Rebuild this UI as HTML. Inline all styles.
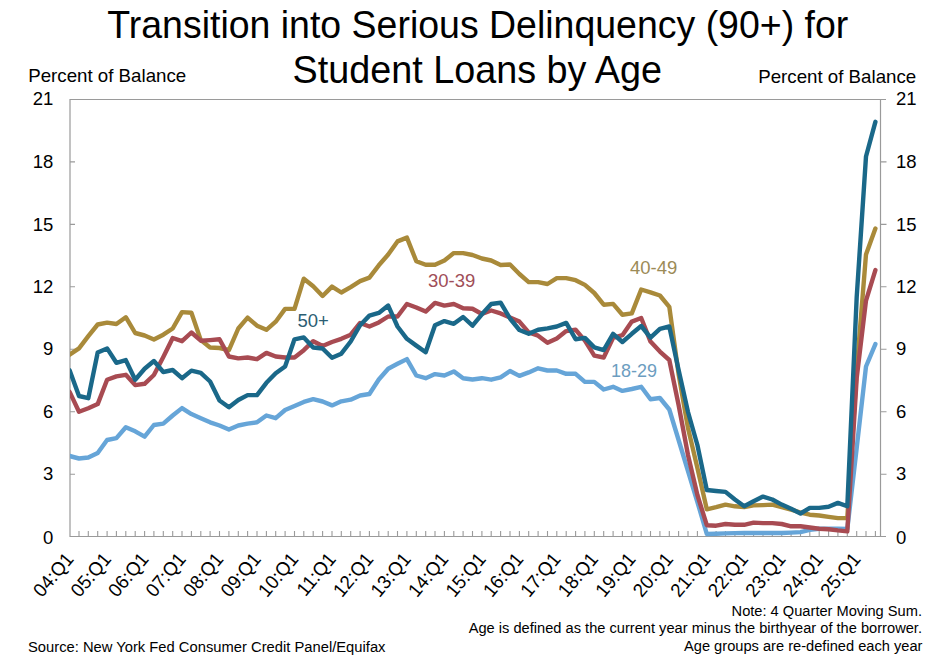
<!DOCTYPE html>
<html><head><meta charset="utf-8"><style>
html,body{margin:0;padding:0;background:#fff;width:947px;height:662px;overflow:hidden}
svg{display:block}
text{font-family:"Liberation Sans",sans-serif;fill:#000}
</style></head><body>
<svg width="947" height="662" viewBox="0 0 947 662">
<path d="M69.5,99.5H886 M70,99V537 M69.5,536.5H886 M880.5,99V537" stroke="#9A9A9A" stroke-width="1.2" fill="none"/>
<path d="M70.0,474.2h5 M70.0,411.7h5 M70.0,349.3h5 M70.0,286.8h5 M70.0,224.4h5 M70.0,161.9h5 M880.5,474.2h6 M880.5,411.7h6 M880.5,349.3h6 M880.5,286.8h6 M880.5,224.4h6 M880.5,161.9h6 M79.0,536.6v-5.5 M88.3,536.6v-5.5 M97.7,536.6v-5.5 M107.1,536.6v-5.5 M116.4,536.6v-5.5 M125.8,536.6v-5.5 M135.2,536.6v-5.5 M144.6,536.6v-5.5 M153.9,536.6v-5.5 M163.3,536.6v-5.5 M172.7,536.6v-5.5 M182.0,536.6v-5.5 M191.4,536.6v-5.5 M200.8,536.6v-5.5 M210.1,536.6v-5.5 M219.5,536.6v-5.5 M228.9,536.6v-5.5 M238.3,536.6v-5.5 M247.6,536.6v-5.5 M257.0,536.6v-5.5 M266.4,536.6v-5.5 M275.7,536.6v-5.5 M285.1,536.6v-5.5 M294.5,536.6v-5.5 M303.8,536.6v-5.5 M313.2,536.6v-5.5 M322.6,536.6v-5.5 M332.0,536.6v-5.5 M341.3,536.6v-5.5 M350.7,536.6v-5.5 M360.1,536.6v-5.5 M369.4,536.6v-5.5 M378.8,536.6v-5.5 M388.2,536.6v-5.5 M397.5,536.6v-5.5 M406.9,536.6v-5.5 M416.3,536.6v-5.5 M425.7,536.6v-5.5 M435.0,536.6v-5.5 M444.4,536.6v-5.5 M453.8,536.6v-5.5 M463.1,536.6v-5.5 M472.5,536.6v-5.5 M481.9,536.6v-5.5 M491.2,536.6v-5.5 M500.6,536.6v-5.5 M510.0,536.6v-5.5 M519.4,536.6v-5.5 M528.7,536.6v-5.5 M538.1,536.6v-5.5 M547.5,536.6v-5.5 M556.8,536.6v-5.5 M566.2,536.6v-5.5 M575.6,536.6v-5.5 M584.9,536.6v-5.5 M594.3,536.6v-5.5 M603.7,536.6v-5.5 M613.1,536.6v-5.5 M622.4,536.6v-5.5 M631.8,536.6v-5.5 M641.2,536.6v-5.5 M650.5,536.6v-5.5 M659.9,536.6v-5.5 M669.3,536.6v-5.5 M678.6,536.6v-5.5 M688.0,536.6v-5.5 M697.4,536.6v-5.5 M706.8,536.6v-5.5 M716.1,536.6v-5.5 M725.5,536.6v-5.5 M734.9,536.6v-5.5 M744.2,536.6v-5.5 M753.6,536.6v-5.5 M763.0,536.6v-5.5 M772.3,536.6v-5.5 M781.7,536.6v-5.5 M791.1,536.6v-5.5 M800.5,536.6v-5.5 M809.8,536.6v-5.5 M819.2,536.6v-5.5 M828.6,536.6v-5.5 M837.9,536.6v-5.5 M847.3,536.6v-5.5 M856.7,536.6v-5.5 M866.0,536.6v-5.5 M875.4,536.6v-5.5" stroke="#9A9A9A" stroke-width="1.1" fill="none"/>
<defs><clipPath id="pc"><rect x="70" y="0" width="877" height="662"/></clipPath></defs>
<path clip-path="url(#pc)" d="M69.6,456.0 L79.0,458.5 L88.3,457.5 L97.7,453.0 L107.1,440.0 L116.4,438.1 L125.8,427.2 L135.2,431.3 L144.6,436.7 L153.9,425.0 L163.3,423.6 L172.7,415.5 L182.0,408.1 L191.4,414.1 L200.8,418.2 L210.1,422.3 L219.5,425.5 L228.9,429.6 L238.3,425.5 L247.6,423.6 L257.0,422.3 L266.4,415.5 L275.7,418.2 L285.1,410.0 L294.5,405.9 L303.8,401.9 L313.2,399.1 L322.6,401.5 L332.0,405.4 L341.3,401.3 L350.7,399.7 L360.1,395.5 L369.4,394.0 L378.8,379.5 L388.2,368.7 L397.5,363.8 L406.9,359.1 L416.3,375.5 L425.7,378.2 L435.0,374.1 L444.4,375.5 L453.8,371.4 L463.1,378.2 L472.5,379.5 L481.9,378.2 L491.2,379.7 L500.6,377.3 L510.0,371.0 L519.4,375.9 L528.7,372.4 L538.1,368.3 L547.5,370.5 L556.8,370.5 L566.2,373.8 L575.6,373.8 L584.9,381.9 L594.3,381.9 L603.7,389.5 L613.1,386.8 L622.4,390.9 L631.8,389.0 L641.2,386.8 L650.5,399.2 L659.9,398.0 L669.3,409.5 L678.6,440.0 L688.0,471.0 L697.4,502.0 L706.8,534.0 L716.1,533.8 L725.5,533.4 L734.9,533.1 L744.2,533.0 L753.6,533.0 L763.0,533.0 L772.3,533.0 L781.7,533.0 L791.1,532.6 L800.5,532.1 L809.8,529.9 L819.2,528.7 L828.6,528.7 L837.9,528.7 L847.3,529.0 L856.7,448.0 L866.0,366.5 L875.4,344.1" stroke="#66A5D8" stroke-width="4.4" fill="none" stroke-linejoin="round" stroke-linecap="round"/>
<path clip-path="url(#pc)" d="M69.6,354.7 L79.0,348.4 L88.3,336.2 L97.7,324.5 L107.1,322.6 L116.4,324.0 L125.8,317.2 L135.2,333.0 L144.6,335.5 L153.9,339.5 L163.3,334.7 L172.7,328.5 L182.0,312.1 L191.4,312.7 L200.8,340.1 L210.1,347.5 L219.5,348.0 L228.9,350.2 L238.3,328.5 L247.6,317.6 L257.0,325.7 L266.4,329.8 L275.7,321.7 L285.1,308.9 L294.5,308.9 L303.8,278.7 L313.2,286.3 L322.6,296.0 L332.0,286.6 L341.3,292.5 L350.7,287.1 L360.1,281.1 L369.4,277.6 L378.8,265.3 L388.2,254.5 L397.5,241.4 L406.9,237.6 L416.3,261.3 L425.7,264.8 L435.0,264.8 L444.4,260.5 L453.8,253.1 L463.1,253.1 L472.5,255.0 L481.9,258.5 L491.2,260.5 L500.6,265.0 L510.0,264.5 L519.4,274.0 L528.7,282.1 L538.1,282.1 L547.5,284.0 L556.8,278.1 L566.2,278.1 L575.6,280.2 L584.9,284.9 L594.3,293.0 L603.7,304.7 L613.1,303.9 L622.4,314.8 L631.8,313.4 L641.2,289.5 L650.5,292.3 L659.9,295.5 L669.3,306.8 L678.6,374.0 L688.0,428.0 L697.4,468.0 L706.8,509.3 L716.1,507.1 L725.5,504.6 L734.9,506.3 L744.2,507.1 L753.6,505.4 L763.0,505.1 L772.3,504.6 L781.7,507.1 L791.1,509.6 L800.5,512.5 L809.8,514.7 L819.2,515.5 L828.6,516.9 L837.9,518.1 L847.3,518.1 L856.7,370.0 L866.0,254.4 L875.4,228.5" stroke="#A98A3A" stroke-width="4.4" fill="none" stroke-linejoin="round" stroke-linecap="round"/>
<path clip-path="url(#pc)" d="M69.6,391.9 L79.0,411.7 L88.3,408.2 L97.7,404.1 L107.1,379.7 L116.4,376.4 L125.8,374.8 L135.2,385.1 L144.6,383.8 L153.9,375.0 L163.3,357.0 L172.7,338.0 L182.0,341.2 L191.4,332.5 L200.8,340.7 L210.1,340.1 L219.5,339.3 L228.9,356.5 L238.3,358.4 L247.6,357.5 L257.0,359.2 L266.4,352.9 L275.7,356.5 L285.1,357.5 L294.5,357.5 L303.8,350.2 L313.2,341.2 L322.6,346.0 L332.0,342.0 L341.3,338.8 L350.7,334.7 L360.1,323.0 L369.4,326.5 L378.8,322.4 L388.2,316.5 L397.5,316.5 L406.9,304.0 L416.3,307.5 L425.7,311.6 L435.0,302.9 L444.4,305.6 L453.8,304.0 L463.1,308.3 L472.5,308.8 L481.9,314.0 L491.2,310.5 L500.6,313.4 L510.0,317.5 L519.4,321.6 L528.7,332.4 L538.1,335.7 L547.5,342.8 L556.8,338.4 L566.2,331.1 L575.6,329.7 L584.9,340.6 L594.3,355.6 L603.7,357.5 L613.1,337.9 L622.4,335.2 L631.8,321.6 L641.2,318.0 L650.5,341.6 L659.9,351.6 L669.3,360.0 L678.6,405.0 L688.0,455.0 L697.4,495.0 L706.8,525.2 L716.1,525.7 L725.5,524.0 L734.9,524.8 L744.2,524.8 L753.6,522.6 L763.0,523.1 L772.3,523.1 L781.7,524.0 L791.1,526.3 L800.5,526.3 L809.8,527.5 L819.2,528.7 L828.6,529.2 L837.9,530.4 L847.3,531.4 L856.7,378.0 L866.0,300.6 L875.4,270.1" stroke="#A84B52" stroke-width="4.4" fill="none" stroke-linejoin="round" stroke-linecap="round"/>
<path clip-path="url(#pc)" d="M69.6,370.2 L79.0,396.0 L88.3,398.2 L97.7,352.5 L107.1,348.4 L116.4,362.8 L125.8,360.1 L135.2,379.7 L144.6,368.8 L153.9,361.0 L163.3,372.0 L172.7,370.0 L182.0,378.2 L191.4,370.6 L200.8,372.8 L210.1,381.5 L219.5,400.5 L228.9,407.3 L238.3,400.0 L247.6,395.1 L257.0,395.1 L266.4,382.8 L275.7,373.3 L285.1,366.5 L294.5,339.3 L303.8,337.4 L313.2,347.5 L322.6,348.5 L332.0,357.8 L341.3,353.7 L350.7,341.5 L360.1,325.2 L369.4,315.6 L378.8,312.9 L388.2,305.6 L397.5,326.5 L406.9,338.8 L416.3,345.6 L425.7,352.3 L435.0,325.2 L444.4,321.1 L453.8,323.8 L463.1,317.0 L472.5,325.7 L481.9,314.3 L491.2,304.0 L500.6,302.7 L510.0,318.5 L519.4,330.0 L528.7,333.8 L538.1,329.7 L547.5,328.4 L556.8,326.5 L566.2,322.9 L575.6,339.2 L584.9,337.9 L594.3,347.4 L603.7,350.1 L613.1,333.8 L622.4,342.0 L631.8,333.8 L641.2,326.0 L650.5,337.6 L659.9,328.9 L669.3,326.5 L678.6,370.0 L688.0,412.0 L697.4,445.0 L706.8,490.0 L716.1,491.0 L725.5,491.9 L734.9,499.5 L744.2,506.3 L753.6,501.2 L763.0,496.6 L772.3,499.5 L781.7,504.6 L791.1,508.8 L800.5,513.5 L809.8,507.9 L819.2,507.9 L828.6,506.8 L837.9,502.9 L847.3,506.3 L856.7,297.0 L866.0,156.5 L875.4,121.8" stroke="#1A6889" stroke-width="4.4" fill="none" stroke-linejoin="round" stroke-linecap="round"/>
<text x="53.3" y="543.6" text-anchor="end" font-size="18.5" font-family="Liberation Sans, sans-serif" transform="matrix(1 0 0 1.04 0 -21.74)">0</text>
<text x="896" y="543.6" text-anchor="start" font-size="18.5" font-family="Liberation Sans, sans-serif" transform="matrix(1 0 0 1.04 0 -21.74)">0</text>
<text x="53.3" y="480.4" text-anchor="end" font-size="18.5" font-family="Liberation Sans, sans-serif" transform="matrix(1 0 0 1.04 0 -19.22)">3</text>
<text x="896" y="480.4" text-anchor="start" font-size="18.5" font-family="Liberation Sans, sans-serif" transform="matrix(1 0 0 1.04 0 -19.22)">3</text>
<text x="53.3" y="417.9" text-anchor="end" font-size="18.5" font-family="Liberation Sans, sans-serif" transform="matrix(1 0 0 1.04 0 -16.72)">6</text>
<text x="896" y="417.9" text-anchor="start" font-size="18.5" font-family="Liberation Sans, sans-serif" transform="matrix(1 0 0 1.04 0 -16.72)">6</text>
<text x="53.3" y="355.5" text-anchor="end" font-size="18.5" font-family="Liberation Sans, sans-serif" transform="matrix(1 0 0 1.04 0 -14.22)">9</text>
<text x="896" y="355.5" text-anchor="start" font-size="18.5" font-family="Liberation Sans, sans-serif" transform="matrix(1 0 0 1.04 0 -14.22)">9</text>
<text x="53.3" y="293.0" text-anchor="end" font-size="18.5" font-family="Liberation Sans, sans-serif" transform="matrix(1 0 0 1.04 0 -11.72)">12</text>
<text x="896" y="293.0" text-anchor="start" font-size="18.5" font-family="Liberation Sans, sans-serif" transform="matrix(1 0 0 1.04 0 -11.72)">12</text>
<text x="53.3" y="230.6" text-anchor="end" font-size="18.5" font-family="Liberation Sans, sans-serif" transform="matrix(1 0 0 1.04 0 -9.22)">15</text>
<text x="896" y="230.6" text-anchor="start" font-size="18.5" font-family="Liberation Sans, sans-serif" transform="matrix(1 0 0 1.04 0 -9.22)">15</text>
<text x="53.3" y="168.1" text-anchor="end" font-size="18.5" font-family="Liberation Sans, sans-serif" transform="matrix(1 0 0 1.04 0 -6.72)">18</text>
<text x="896" y="168.1" text-anchor="start" font-size="18.5" font-family="Liberation Sans, sans-serif" transform="matrix(1 0 0 1.04 0 -6.72)">18</text>
<text x="53.3" y="104.7" text-anchor="end" font-size="18.5" font-family="Liberation Sans, sans-serif" transform="matrix(1 0 0 1.04 0 -4.19)">21</text>
<text x="896" y="104.7" text-anchor="start" font-size="18.5" font-family="Liberation Sans, sans-serif" transform="matrix(1 0 0 1.04 0 -4.19)">21</text>
<text transform="translate(74.5,559.6) rotate(-50) scale(1,1.04)" text-anchor="end" font-size="18.5" font-family="Liberation Sans, sans-serif">04:Q1</text>
<text transform="translate(112.0,559.6) rotate(-50) scale(1,1.04)" text-anchor="end" font-size="18.5" font-family="Liberation Sans, sans-serif">05:Q1</text>
<text transform="translate(149.5,559.6) rotate(-50) scale(1,1.04)" text-anchor="end" font-size="18.5" font-family="Liberation Sans, sans-serif">06:Q1</text>
<text transform="translate(186.9,559.6) rotate(-50) scale(1,1.04)" text-anchor="end" font-size="18.5" font-family="Liberation Sans, sans-serif">07:Q1</text>
<text transform="translate(224.4,559.6) rotate(-50) scale(1,1.04)" text-anchor="end" font-size="18.5" font-family="Liberation Sans, sans-serif">08:Q1</text>
<text transform="translate(261.9,559.6) rotate(-50) scale(1,1.04)" text-anchor="end" font-size="18.5" font-family="Liberation Sans, sans-serif">09:Q1</text>
<text transform="translate(299.4,559.6) rotate(-50) scale(1,1.04)" text-anchor="end" font-size="18.5" font-family="Liberation Sans, sans-serif">10:Q1</text>
<text transform="translate(336.9,559.6) rotate(-50) scale(1,1.04)" text-anchor="end" font-size="18.5" font-family="Liberation Sans, sans-serif">11:Q1</text>
<text transform="translate(374.3,559.6) rotate(-50) scale(1,1.04)" text-anchor="end" font-size="18.5" font-family="Liberation Sans, sans-serif">12:Q1</text>
<text transform="translate(411.8,559.6) rotate(-50) scale(1,1.04)" text-anchor="end" font-size="18.5" font-family="Liberation Sans, sans-serif">13:Q1</text>
<text transform="translate(449.3,559.6) rotate(-50) scale(1,1.04)" text-anchor="end" font-size="18.5" font-family="Liberation Sans, sans-serif">14:Q1</text>
<text transform="translate(486.8,559.6) rotate(-50) scale(1,1.04)" text-anchor="end" font-size="18.5" font-family="Liberation Sans, sans-serif">15:Q1</text>
<text transform="translate(524.3,559.6) rotate(-50) scale(1,1.04)" text-anchor="end" font-size="18.5" font-family="Liberation Sans, sans-serif">16:Q1</text>
<text transform="translate(561.7,559.6) rotate(-50) scale(1,1.04)" text-anchor="end" font-size="18.5" font-family="Liberation Sans, sans-serif">17:Q1</text>
<text transform="translate(599.2,559.6) rotate(-50) scale(1,1.04)" text-anchor="end" font-size="18.5" font-family="Liberation Sans, sans-serif">18:Q1</text>
<text transform="translate(636.7,559.6) rotate(-50) scale(1,1.04)" text-anchor="end" font-size="18.5" font-family="Liberation Sans, sans-serif">19:Q1</text>
<text transform="translate(674.2,559.6) rotate(-50) scale(1,1.04)" text-anchor="end" font-size="18.5" font-family="Liberation Sans, sans-serif">20:Q1</text>
<text transform="translate(711.7,559.6) rotate(-50) scale(1,1.04)" text-anchor="end" font-size="18.5" font-family="Liberation Sans, sans-serif">21:Q1</text>
<text transform="translate(749.1,559.6) rotate(-50) scale(1,1.04)" text-anchor="end" font-size="18.5" font-family="Liberation Sans, sans-serif">22:Q1</text>
<text transform="translate(786.6,559.6) rotate(-50) scale(1,1.04)" text-anchor="end" font-size="18.5" font-family="Liberation Sans, sans-serif">23:Q1</text>
<text transform="translate(824.1,559.6) rotate(-50) scale(1,1.04)" text-anchor="end" font-size="18.5" font-family="Liberation Sans, sans-serif">24:Q1</text>
<text transform="translate(861.6,559.6) rotate(-50) scale(1,1.04)" text-anchor="end" font-size="18.5" font-family="Liberation Sans, sans-serif">25:Q1</text>
<text x="107.3" y="38.4" textLength="741" lengthAdjust="spacingAndGlyphs" font-size="38" font-family="Liberation Sans, sans-serif" transform="matrix(1 0 0 1.04 0 -1.54)">Transition into Serious Delinquency (90+) for</text>
<text x="292.5" y="83" textLength="369.5" lengthAdjust="spacingAndGlyphs" font-size="38" font-family="Liberation Sans, sans-serif" transform="matrix(1 0 0 1.04 0 -3.32)">Student Loans by Age</text>
<text x="28.2" y="82.1" textLength="158" lengthAdjust="spacingAndGlyphs" font-size="18.5" font-family="Liberation Sans, sans-serif" transform="matrix(1 0 0 1.04 0 -3.28)">Percent of Balance</text>
<text x="758.2" y="82.8" textLength="158" lengthAdjust="spacingAndGlyphs" font-size="18.5" font-family="Liberation Sans, sans-serif" transform="matrix(1 0 0 1.04 0 -3.31)">Percent of Balance</text>
<text x="297.4" y="327" font-size="18.5" style="fill:#2B5E73" font-family="Liberation Sans, sans-serif" transform="matrix(1 0 0 1.04 0 -13.08)">50+</text>
<text x="428" y="287.4" font-size="18.5" style="fill:#A04E58" font-family="Liberation Sans, sans-serif" transform="matrix(1 0 0 1.04 0 -11.50)">30-39</text>
<text x="630" y="274" font-size="18.5" style="fill:#9C8B57" font-family="Liberation Sans, sans-serif" transform="matrix(1 0 0 1.04 0 -10.96)">40-49</text>
<text x="611" y="377.3" textLength="46" lengthAdjust="spacingAndGlyphs" font-size="18.5" style="fill:#6C9DC0" font-family="Liberation Sans, sans-serif" transform="matrix(1 0 0 1.04 0 -15.09)">18-29</text>
<text x="922" y="616.5" text-anchor="end" font-size="14.65" font-family="Liberation Sans, sans-serif" transform="matrix(1 0 0 1.04 0 -24.66)">Note: 4 Quarter Moving Sum.</text>
<text x="922" y="633.2" text-anchor="end" font-size="14.65" font-family="Liberation Sans, sans-serif" transform="matrix(1 0 0 1.04 0 -25.33)">Age is defined as the current year minus the birthyear of the borrower.</text>
<text x="922.5" y="650.7" text-anchor="end" font-size="14.65" font-family="Liberation Sans, sans-serif" transform="matrix(1 0 0 1.04 0 -26.03)">Age groups are re-defined each year</text>
<text x="28" y="651.8" textLength="357.5" lengthAdjust="spacingAndGlyphs" font-size="14.65" font-family="Liberation Sans, sans-serif" transform="matrix(1 0 0 1.04 0 -26.07)">Source: New York Fed Consumer Credit Panel/Equifax</text>
</svg>
</body></html>
